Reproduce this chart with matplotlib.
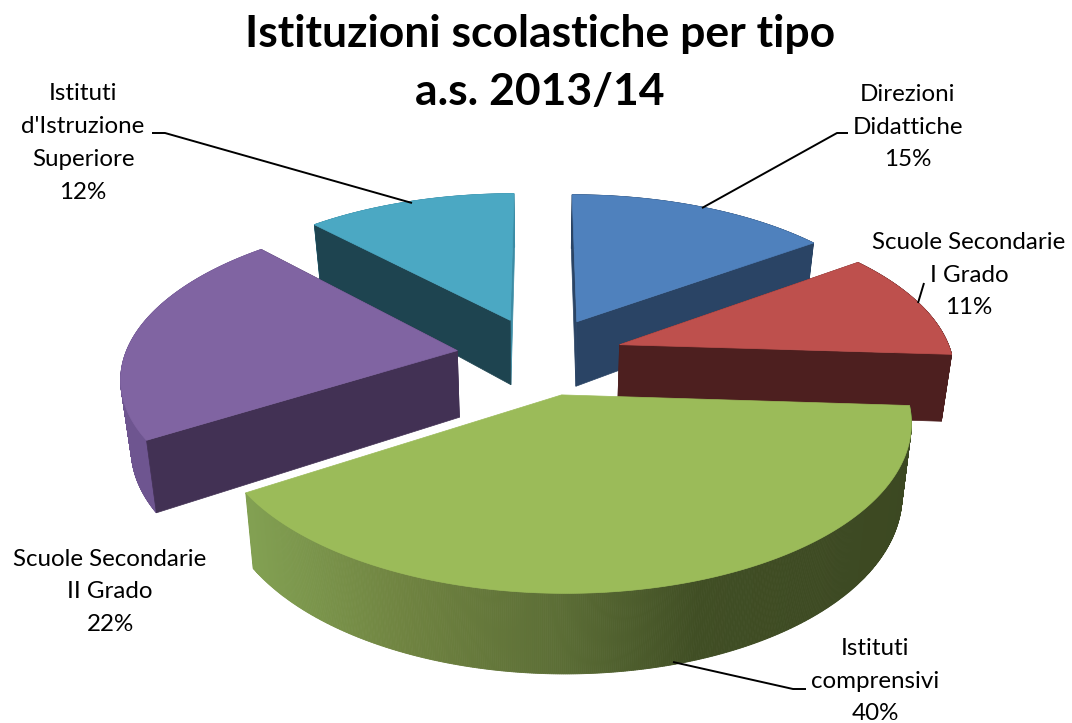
import numpy as np
import matplotlib
matplotlib.use('Agg')
import matplotlib.pyplot as plt
from matplotlib.patches import Polygon

plt.rcParams['font.family'] = ['Lato', 'DejaVu Sans']

title = 'Istituzioni scolastiche per tipo\na.s. 2013/14'
labels = ['Direzioni\nDidattiche', 'Scuole Secondarie\nI Grado', 'Istituti\ncomprensivi',
          'Scuole Secondarie\nII Grado', "Istituti\nd'Istruzione\nSuperiore"]
values = [15, 11, 40, 22, 12]

top_colors = ['#4F81BD', '#BE504D', '#9BBB59', '#8064A2', '#4BA8C3']
face_colors = ['#2A4465', '#4D1F1F', None, '#423154', '#1E4450']
side_colors = ['#2A4465', '#4D1F1F', '#9BBB59', '#6E5590', '#3C8CA5']

# label centres and leader lines, in pixels
label_pos = [(908, 127), (969, 275), (875, 681), (110, 592), (83, 143)]
leaders = [[(702, 208), (837, 133), (848, 133)],
           [(918, 303), (924, 283)],
           [(673, 662), (793, 689), (806, 689)],
           [],
           [(152, 133), (165, 133), (412, 203)]]

CX, CY = 540, 355.5
RX, RY = 335, 156.7
PERSP = 0.1515
EXPLODE = 0.25
RADIUS = 0.992


def project(x, y):
    k = 1 / (1 + PERSP * y)
    return CX + RX * x * k, CY - RY * y * k


def bottom(x, y):
    sx, sy = project(x, y)
    return CX + (sx - CX) * 0.975, sy + 67 - 11 * y


def green_shade(sx):
    stops = [(250, (130, 160, 82)), (400, (112, 132, 65)), (560, (92, 110, 54)), (700, (64, 78, 36)), (920, (60, 72, 34))]
    xs = [s[0] for s in stops]
    return tuple(np.interp(sx, xs, [s[1][i] for s in stops]) / 255 for i in range(3))


fig = plt.figure(figsize=(10.72, 7.23), dpi=100)
ax = fig.add_axes([0, 0, 1, 1])
ax.set_xlim(0, 1072)
ax.set_ylim(723, 0)
ax.axis('off')

start = 0
angles = []
for v in values:
    angles.append((start, start + v * 3.6))
    start += v * 3.6

# far slices first, the green one last
for i in [4, 0, 1, 3, 2]:
    a0, a1 = np.radians(angles[i])
    mid = (a0 + a1) / 2
    ox, oy = EXPLODE * np.sin(mid), EXPLODE * np.cos(mid)
    t = np.linspace(a0, a1, 500)
    xs = ox + RADIUS * np.sin(t)
    ys = oy + RADIUS * np.cos(t)

    # outer rim
    for j in range(len(t) - 1):
        quad = [project(xs[j], ys[j]), project(xs[j + 1], ys[j + 1]),
                bottom(xs[j + 1], ys[j + 1]), bottom(xs[j], ys[j])]
        col = side_colors[i]
        if i == 2:
            col = green_shade(quad[0][0])
        ax.add_patch(Polygon(quad, closed=True, fc=col, ec=col, lw=0.6))

    # cut faces, the green ones can't be seen
    if face_colors[i] is not None:
        for n, (x, y) in enumerate([(xs[-1], ys[-1]), (xs[0], ys[0])]):
            col = face_colors[i]
            if i == 4 and n == 0:
                col = side_colors[4]
            quad = [project(ox, oy), project(x, y), bottom(x, y), bottom(ox, oy)]
            ax.add_patch(Polygon(quad, closed=True, fc=col, ec=col, lw=0.5))

    # top
    pts = [project(ox, oy)] + [project(x, y) for x, y in zip(xs, ys)]
    ax.add_patch(Polygon(pts, closed=True, fc=top_colors[i], ec=top_colors[i], lw=0.5))

for line in leaders:
    if line:
        ax.plot([p[0] for p in line], [p[1] for p in line], color='black', lw=1.4, solid_capstyle='butt')

for lab, v, pos in zip(labels, values, label_pos):
    ax.text(pos[0], pos[1], f'{lab}\n{v}%', ha='center', va='center', fontsize=17.4,
            color='black', linespacing=1.7)

ax.text(540, 63, title, ha='center', va='center', fontsize=32, fontweight='bold',
        color='black', linespacing=1.55)

fig.savefig('out.png', dpi=100)
